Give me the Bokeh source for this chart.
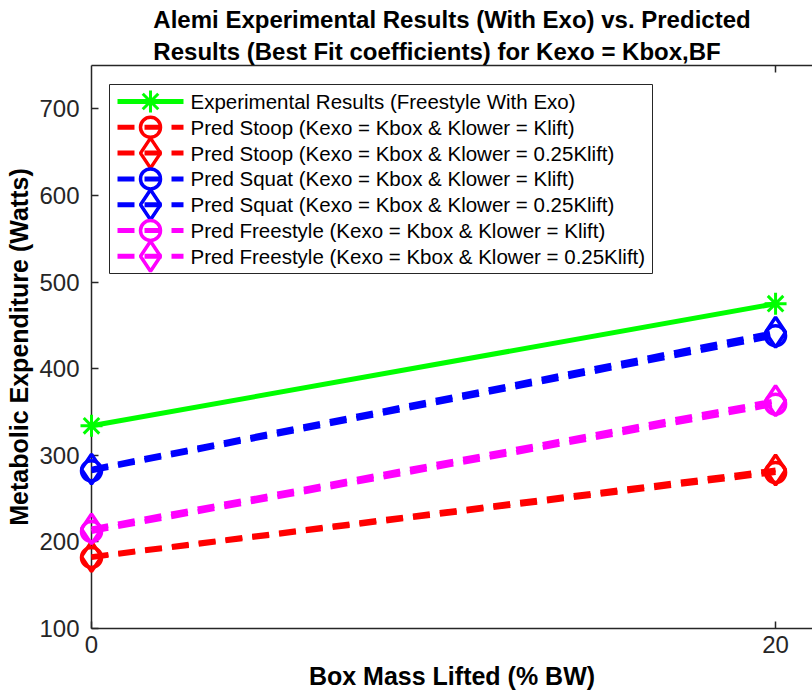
from bokeh.plotting import figure
from bokeh.models import Range1d, LinearAxis, FixedTicker, CustomJSTickFormatter
from bokeh.core.properties import value
from bokeh.embed import file_html
from bokeh.resources import INLINE

# Box mass lifted (% body weight)
box_mass = [0, 20]

# Metabolic expenditure (Watts)
exp_freestyle = [334, 475]
stoop_klift = [182, 280]
stoop_025 = [183, 283]
squat_klift = [282, 438]
squat_025 = [284, 442]
free_klift = [212, 359]
free_025 = [215, 363]

y_ticks = [100, 200, 300, 400, 500, 600, 700]
x_ticks = [0, 20]

labels = [
    "Experimental Results (Freestyle With Exo)",
    "Pred Stoop (Kexo = Kbox & Klower = Klift)",
    "Pred Stoop (Kexo = Kbox & Klower = 0.25Klift)",
    "Pred Squat (Kexo = Kbox & Klower = Klift)",
    "Pred Squat (Kexo = Kbox & Klower = 0.25Klift)",
    "Pred Freestyle (Kexo = Kbox & Klower = Klift)",
    "Pred Freestyle (Kexo = Kbox & Klower = 0.25Klift)",
]

FONT = "Liberation Sans"
AX = "#262626"

# frame geometry (pixels) and data ranges
FW, FH = 721, 563
X0, X1 = 0, 21.08
Y0, Y1 = 100, 750

p = figure(
    frame_width=FW, frame_height=FH,
    min_border_left=91, min_border_right=0, min_border_top=65, min_border_bottom=72,
    x_range=Range1d(X0, X1), y_range=Range1d(Y0, Y1),
    output_backend="svg", toolbar_location=None,
    background_fill_color="white", border_fill_color="white",
)
p.outline_line_color = None
p.grid.visible = False

p.title.text = ("Alemi Experimental Results (With Exo) vs. Predicted\n"
                "Results (Best Fit coefficients) for Kexo = Kbox,BF")
p.title.align = "center"
p.title.text_font = FONT
p.title.text_font_size = "24px"
p.title.text_font_style = "bold"
p.title.text_color = "black"
p.title.text_line_height = 1.2
p.title.offset = 6
p.title.standoff = 0

for ax, ticks in ((p.xaxis[0], x_ticks), (p.yaxis[0], y_ticks)):
    ax.ticker = FixedTicker(ticks=ticks)
    ax.major_tick_in = 7
    ax.major_tick_out = 0
    ax.minor_tick_line_color = None
    ax.axis_line_color = AX
    ax.axis_line_width = 1.5
    ax.major_tick_line_color = AX
    ax.major_tick_line_width = 1.5
    ax.major_label_text_font = FONT
    ax.major_label_text_font_size = "24px"
    ax.major_label_text_color = AX
    ax.axis_label_text_font = FONT
    ax.axis_label_text_font_size = "25px"
    ax.axis_label_text_font_style = "bold"
    ax.axis_label_text_color = "black"

p.xaxis.axis_label = "Box Mass Lifted (% BW)"
p.xaxis.major_label_standoff = 7
p.xaxis.axis_label_standoff = 6
p.yaxis.axis_label = "Metabolic Expenditure (Watts)"
p.yaxis.major_label_standoff = 12
p.yaxis.axis_label_standoff = 3

# top border of the box with its inward tick, no labels
top = LinearAxis(ticker=FixedTicker(ticks=[20]), major_tick_in=7, major_tick_out=0,
                 minor_tick_line_color=None, axis_line_color=AX, axis_line_width=1.5,
                 major_tick_line_color=AX, major_tick_line_width=1.5,
                 formatter=CustomJSTickFormatter(code="return ''"),
                 major_label_standoff=0)
p.add_layout(top, "above")


def px_x(px):
    """frame pixel offset from the left edge -> x data value"""
    return X0 + px * (X1 - X0) / FW


def px_y(px):
    """frame pixel offset from the top edge -> y data value"""
    return Y1 - px * (Y1 - Y0) / FH


LW = 5
DASH = "17 10"
MLW = 3.5

series = [
    (exp_freestyle, "#00ff00", "solid", "asterisk", 22, 3),
    (stoop_klift, "#ff0000", DASH, "circle", 20, MLW),
    (stoop_025, "#ff0000", DASH, "diamond", 30, MLW),
    (squat_klift, "#0000ff", DASH, "circle", 20, MLW),
    (squat_025, "#0000ff", DASH, "diamond", 30, MLW),
    (free_klift, "#ff00ff", DASH, "circle", 20, MLW),
    (free_025, "#ff00ff", DASH, "diamond", 30, MLW),
]

# data series
for vals, color, dash, marker, size, mlw in series:
    p.line(box_mass, vals, line_color=color, line_width=LW, line_dash=dash,
           level="overlay")
    p.scatter(box_mass, vals, marker=marker, size=size, line_color=color,
              fill_color=None, line_width=mlw, level="overlay")

# legend: frame 18 px in from the left, 19 px down from the top, 543 x 189 px
p.quad(left=[px_x(18)], right=[px_x(18 + 543)], top=[px_y(19)], bottom=[px_y(19 + 189)],
       fill_color="white", line_color=AX, line_width=1)

ROW0, PITCH = 36, 25.8
SAMPLE_L, SAMPLE_R, TEXT_X = 26, 92, 99
for i, ((vals, color, dash, marker, size, mlw), label) in enumerate(zip(series, labels)):
    ry = px_y(ROW0 + i * PITCH)
    p.line([px_x(SAMPLE_L), px_x(SAMPLE_R)], [ry, ry], line_color=color,
           line_width=LW, line_dash=dash)
    p.scatter([px_x((SAMPLE_L + SAMPLE_R) / 2)], [ry], marker=marker, size=size,
              line_color=color, fill_color=None, line_width=mlw)
    p.text([px_x(TEXT_X)], [ry], text=[label], text_font=value(FONT),
           text_font_size=value("20.5px"), text_baseline="middle", text_align="left",
           text_color="black")

open("out.html", "w").write(file_html(p, INLINE))
